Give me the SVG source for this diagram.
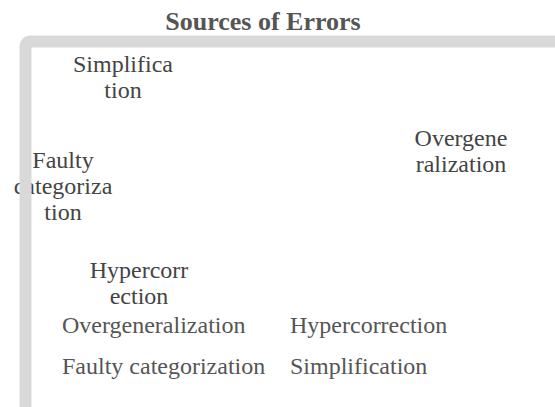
<svg xmlns="http://www.w3.org/2000/svg" width="555" height="407" viewBox="0 0 555 407">
  <style>
    .title { font-family: "Liberation Serif", "Times New Roman", serif; font-size: 26px; font-weight: bold; fill: #555555; text-anchor: middle; }
    .lbl { font-family: "Liberation Serif", "Times New Roman", serif; font-size: 24px; fill: #444444; text-anchor: middle; }
    .leg { font-family: "Liberation Serif", "Times New Roman", serif; font-size: 24px; fill: #555555; }
    .frame { fill: none; stroke: #d9d9d9; stroke-width: 12; }
  </style>
  <rect x="0" y="0" width="555" height="407" fill="#ffffff"/>
  <text class="title" x="263" y="30">Sources of Errors</text>

  <g id="node-simplification">
    <text class="lbl" x="123" y="72">Simplifica</text>
    <text class="lbl" x="123" y="98">tion</text>
  </g>
  <g id="node-overgeneralization">
    <text class="lbl" x="461" y="146">Overgene</text>
    <text class="lbl" x="461" y="172">ralization</text>
  </g>
  <g id="node-faulty-categorization">
    <text class="lbl" x="63" y="168">Faulty</text>
    <text class="lbl" x="63" y="194">categoriza</text>
    <text class="lbl" x="63" y="220">tion</text>
  </g>
  <g id="node-hypercorrection">
    <text class="lbl" x="139" y="278">Hypercorr</text>
    <text class="lbl" x="139" y="304">ection</text>
  </g>

  <g id="legend">
    <text class="leg" x="62" y="333">Overgeneralization</text>
    <text class="leg" x="290" y="333">Hypercorrection</text>
    <text class="leg" x="62" y="374">Faulty categorization</text>
    <text class="leg" x="290" y="374">Simplification</text>
  </g>

  <g id="frame">
    <rect class="frame" x="25.5" y="41.5" width="600" height="500" rx="5"/>
  </g>
</svg>
